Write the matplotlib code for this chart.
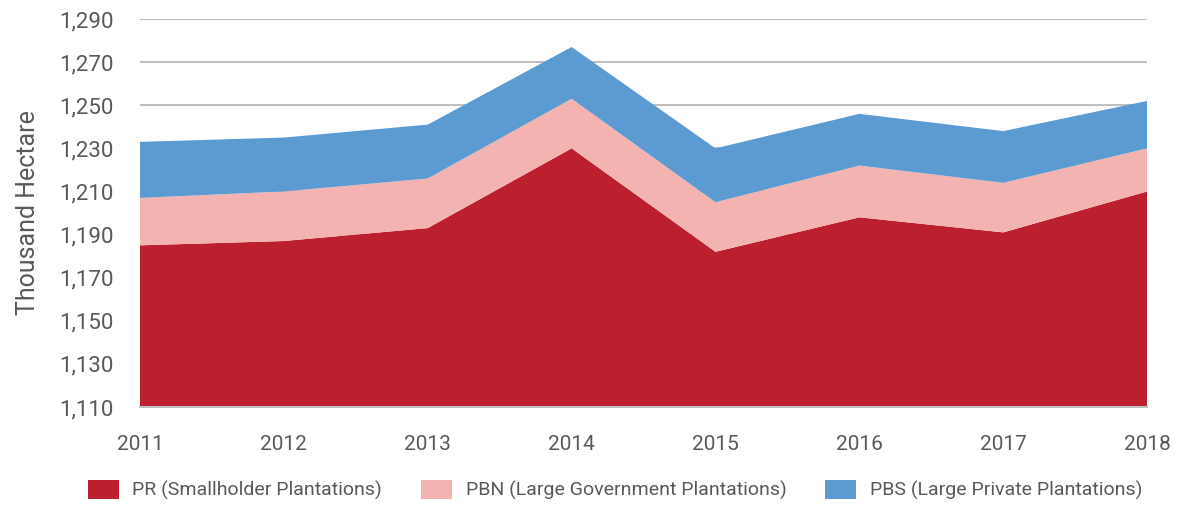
import matplotlib.pyplot as plt
import numpy as np

years = [2011, 2012, 2013, 2014, 2015, 2016, 2017, 2018]
# cumulative tops (thousand hectare)
pr_top = [1185, 1187, 1193, 1230, 1182, 1198, 1191, 1210]
pbn_top = [1207, 1210, 1216, 1253, 1205, 1222, 1214, 1230]
pbs_top = [1233, 1235, 1241, 1277, 1230, 1246, 1238, 1252]
labels = ["PR (Smallholder Plantations)", "PBN (Large Government Plantations)",
          "PBS (Large Private Plantations)"]
colors = ["#BC1F2E", "#F2B3B1", "#5B9BD2"]

base = 1110
pr = np.array(pr_top) - base
pbn = np.array(pbn_top) - np.array(pr_top)
pbs = np.array(pbs_top) - np.array(pbn_top)

plt.rcParams['font.family'] = ['Roboto', 'DejaVu Sans']
txt = "#595959"

fig = plt.figure(figsize=(11.92, 5.15), dpi=100)
ax = fig.add_axes([0.1174, 0.2097, 0.845, 0.7534])
# stack is drawn relative to 1110 (the axis floor)
ax.stackplot(years, pr, pbn, pbs, colors=colors, labels=labels, linewidth=0)
ax.set_ylim(0, 180)
ax.set_yticks(np.arange(0, 181, 20))
ax.set_yticklabels(["{:,}".format(v) for v in range(1110, 1291, 20)])
ax.set_xlim(2011, 2018)
ax.set_xticks(years)
ax.grid(axis='y', color='#BFBFBF', linewidth=1.5)
ax.set_axisbelow(True)
for s in ['top', 'right', 'left']:
    ax.spines[s].set_visible(False)
ax.spines['bottom'].set_color('#BFBFBF')
ax.spines['bottom'].set_linewidth(1.5)
ax.spines['bottom'].set_zorder(5)
ax.tick_params(axis='y', length=0, labelsize=16, colors=txt, pad=19)
ax.tick_params(axis='x', length=0, labelsize=15, colors=txt, pad=20)
ax.set_ylabel("Thousand Hectare", fontsize=18, color=txt, labelpad=14)

fig.legend(loc='lower center', bbox_to_anchor=(0.516, -0.005), ncol=3, frameon=False,
           fontsize=14, labelcolor=txt, handlelength=1.6, handleheight=1.1,
           columnspacing=2.0, handletextpad=0.7)

fig.savefig("out.png", dpi=100)
